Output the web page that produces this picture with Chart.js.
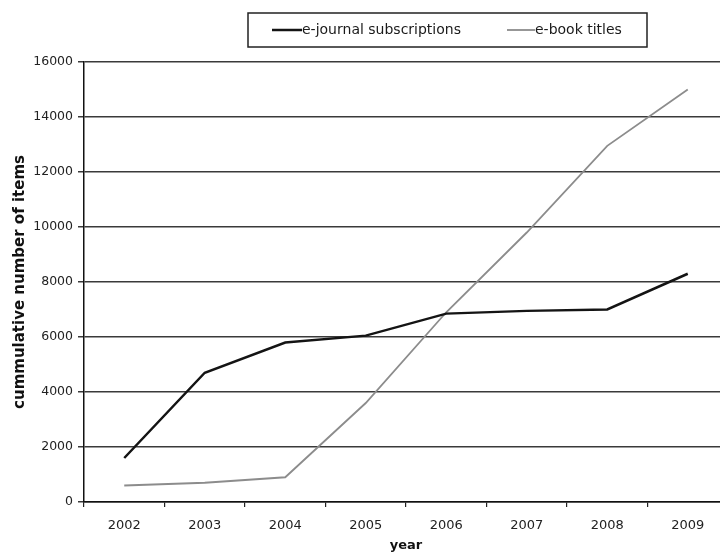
<!DOCTYPE html>
<html>
<head>
<meta charset="utf-8">
<script src="https://cdn.jsdelivr.net/npm/chart.js@4/dist/chart.umd.min.js"></script>
<style>
  html, body { margin: 0; padding: 0; background: #fff; overflow: hidden; }
  #wrap { position: relative; width: 730px; height: 555px; }
</style>
</head>
<body>
<div id="wrap"><canvas id="c"></canvas></div>
<script>
// Years on the category axis
const years = ['2002', '2003', '2004', '2005', '2006', '2007', '2008', '2009'];
// Cumulative holdings per year
const ejournalSubscriptions = [1600, 4700, 5800, 6050, 6850, 6950, 7000, 8300];
const ebookTitles = [600, 700, 900, 3600, 6900, 9800, 12950, 15000];
// Value axis range and step
const yMin = 0, yMax = 16000, yStep = 2000;

const seriesNames = ['e-journal subscriptions', 'e-book titles'];
const seriesColors = ['#141414', '#8c8c8c'];

const FONT = 'DejaVu Sans';

// Boxed legend above the plot
const boxedLegend = {
  id: 'boxedLegend',
  afterDraw(chart) {
    const ctx = chart.ctx;
    const x0 = 248, y0 = 13, w = 399, h = 34;
    ctx.save();
    ctx.strokeStyle = '#222';
    ctx.lineWidth = 1.5;
    ctx.strokeRect(x0, y0, w, h);
    ctx.font = '14px "' + FONT + '"';
    ctx.textBaseline = 'middle';
    ctx.fillStyle = '#1a1a1a';
    const cy = y0 + h / 2;
    const items = [
      { lx: 272, len: 30, ds: chart.data.datasets[0] },
      { lx: 507, len: 28, ds: chart.data.datasets[1] }
    ];
    items.forEach(it => {
      ctx.strokeStyle = it.ds.borderColor;
      ctx.lineWidth = it.ds.borderWidth;
      ctx.beginPath();
      ctx.moveTo(it.lx, cy);
      ctx.lineTo(it.lx + it.len, cy);
      ctx.stroke();
      ctx.fillText(it.ds.label, it.lx + it.len, cy);
    });
    ctx.restore();
  }
};

new Chart(document.getElementById('c'), {
  type: 'line',
  data: {
    labels: years,
    datasets: [
      {
        label: seriesNames[0],
        data: ejournalSubscriptions,
        borderColor: seriesColors[0],
        borderWidth: 2.5,
        pointRadius: 0,
        tension: 0,
        fill: false
      },
      {
        label: seriesNames[1],
        data: ebookTitles,
        borderColor: seriesColors[1],
        borderWidth: 1.8,
        pointRadius: 0,
        tension: 0,
        fill: false
      }
    ]
  },
  options: {
    responsive: true,
    maintainAspectRatio: false,
    animation: false,
    events: [],
    layout: { padding: { top: 62, right: 2, left: 0, bottom: 0 } },
    plugins: {
      legend: { display: false },
      tooltip: { enabled: false }
    },
    scales: {
      x: {
        type: 'category',
        offset: true,
        grid: {
          offset: true,
          drawOnChartArea: false,
          drawTicks: true,
          tickLength: 5,
          color: '#222',
          lineWidth: 1.2
        },
        border: { display: true, color: '#111', width: 1.5 },
        ticks: {
          color: '#222',
          font: { family: FONT, size: 13 },
          padding: 11,
          maxRotation: 0
        },
        title: {
          display: true,
          text: 'year',
          color: '#111',
          font: { family: FONT, size: 13, weight: 'bold' },
          padding: { top: 2, bottom: 2 }
        },
        afterFit(scale) { scale.height = 53; }
      },
      y: {
        min: yMin,
        max: yMax,
        grid: {
          color: '#3a3a3a',
          lineWidth: 1.5,
          drawTicks: true,
          tickLength: 6
        },
        border: { display: true, color: '#111', width: 1.5 },
        ticks: {
          stepSize: yStep,
          color: '#222',
          font: { family: FONT, size: 12.5 },
          padding: 5,
          callback: v => String(v)
        },
        title: {
          display: true,
          text: 'cummulative number of items',
          color: '#111',
          font: { family: FONT, size: 15, weight: 'bold' },
          padding: { top: 11, bottom: 4 }
        },
        afterFit(scale) { scale.width = 84; }
      }
    }
  },
  plugins: [boxedLegend]
});
</script>
</body>
</html>
